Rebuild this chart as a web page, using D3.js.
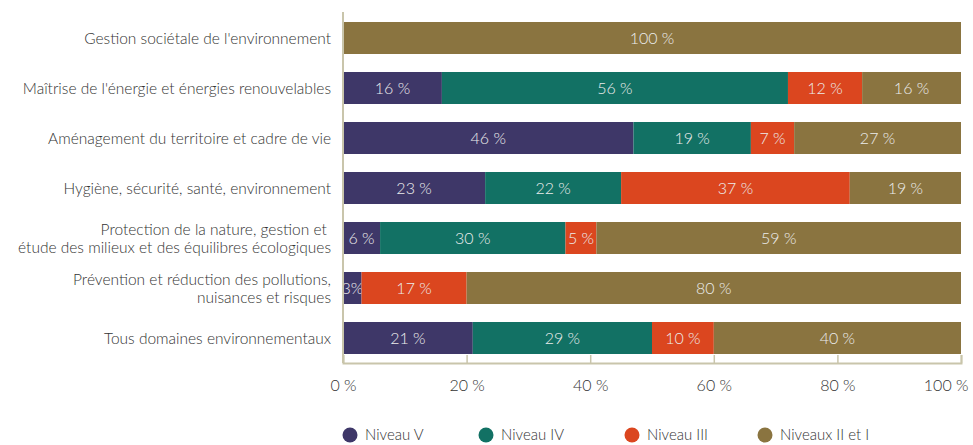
<!DOCTYPE html>
<html>
<head>
<meta charset="utf-8">
<script src="https://cdn.jsdelivr.net/npm/d3@7"></script>
<style>
  body { margin: 0; background: #fff; }
  text { font-family: Lato, "Open Sans", sans-serif; font-weight: 300; }
</style>
</head>
<body>
<div id="chart"></div>
<script>
// categories (each entry = lines of the label)
var categories = [
  ["Gestion sociétale de l'environnement"],
  ["Maîtrise de l'énergie et énergies renouvelables"],
  ["Aménagement du territoire et cadre de vie"],
  ["Hygiène, sécurité, santé, environnement"],
  ["Protection de la nature, gestion et ", "étude des milieux et des équilibres écologiques"],
  ["Prévention et réduction des pollutions,", "nuisances et risques"],
  ["Tous domaines environnementaux"]
];
var seriesNames = ["Niveau V", "Niveau IV", "Niveau III", "Niveaux II et I"];
var colors = ["#3e3768", "#127164", "#db461f", "#8a7440"];

// bar widths (%)
var niveauV   = [0, 16, 47, 23, 6, 3, 21];
var niveauIV  = [0, 56, 19, 22, 30, 0, 29];
var niveauIII = [0, 12, 7, 37, 5, 17, 10];
var niveauII  = [100, 16, 27, 18, 59, 80, 40];

// printed labels
var labelsV   = ["", "16 %", "46 %", "23 %", "6 %", "3%", "21 %"];
var labelsIV  = ["", "56 %", "19 %", "22 %", "30 %", "", "29 %"];
var labelsIII = ["", "12 %", "7 %", "37 %", "5 %", "17 %", "10 %"];
var labelsII  = ["100 %", "16 %", "27 %", "19 %", "59 %", "80 %", "40 %"];

var ticks = [0, 20, 40, 60, 80, 100];

var W = 973, H = 445;
var margin = { top: 13, left: 343, right: 12 };
var plotBottom = 363;

var svg = d3.select("#chart").append("svg")
  .attr("width", W).attr("height", H);

var x = d3.scaleLinear().domain([0, 100]).range([margin.left, W - margin.right]);
var y = d3.scaleBand().domain(d3.range(categories.length))
  .range([margin.top, plotBottom]).paddingInner(0.36).paddingOuter(0.18);

var values = [niveauV, niveauIV, niveauIII, niveauII];
var labels = [labelsV, labelsIV, labelsIII, labelsII];

var rows = categories.map(function(c, i) {
  var r = { i: i };
  seriesNames.forEach(function(s, k) { r[s] = values[k][i]; });
  return r;
});
var stack = d3.stack().keys(seriesNames)(rows);

// bars
stack.forEach(function(layer, k) {
  var g = svg.append("g");
  g.selectAll("rect").data(layer).join("rect")
    .attr("x", function(d) { return x(d[0]); })
    .attr("y", function(d, i) { return y(i); })
    .attr("width", function(d) { return x(d[1]) - x(d[0]); })
    .attr("height", y.bandwidth())
    .attr("fill", colors[k]);
  g.selectAll("text").data(layer).join("text")
    .attr("x", function(d) { return (x(d[0]) + x(d[1])) / 2; })
    .attr("y", function(d, i) { return y(i) + y.bandwidth() / 2; })
    .attr("dy", "0.36em")
    .attr("text-anchor", "middle")
    .attr("fill", "#ececec")
    .style("font-size", "16px")
    .text(function(d, i) { return labels[k][i]; });
});

// y axis line
svg.append("line")
  .attr("x1", x(0)).attr("x2", x(0))
  .attr("y1", margin.top - 1).attr("y2", plotBottom)
  .attr("stroke", "#c9c5ab").attr("stroke-width", 2);

// x axis
var axis = svg.append("g").attr("transform", "translate(0," + plotBottom + ")")
  .call(d3.axisBottom(x).tickValues(ticks).tickSize(-8).tickPadding(17)
    .tickFormat(function(d) { return d + " %"; }));
axis.select(".domain").attr("stroke", "#c9c5ab").attr("stroke-width", 2);
axis.selectAll(".tick line").attr("stroke", "#c9c5ab").attr("stroke-width", 1.5);
axis.selectAll(".tick text").attr("fill", "#333").style("font-size", "16px")
  .style("font-family", "Lato, 'Open Sans', sans-serif");
axis.selectAll(".tick text").filter(function(d) { return d === 100; })
  .attr("text-anchor", "end").attr("dx", 7);

// category labels
var cat = svg.append("g");
categories.forEach(function(lines, i) {
  var cy = y(i) + y.bandwidth() / 2;
  var t = cat.append("text")
    .attr("text-anchor", "end")
    .attr("fill", "#333")
    .style("font-size", "15.5px");
  lines.forEach(function(l, j) {
    t.append("tspan")
      .attr("x", 331)
      .attr("y", cy + (j - (lines.length - 1) / 2) * 18)
      .attr("dy", "0.36em")
      .text(l);
  });
});

// legend
var legendX = [350, 486, 632, 765];
var leg = svg.append("g").attr("transform", "translate(0,435)");
seriesNames.forEach(function(s, k) {
  leg.append("circle").attr("cx", legendX[k]).attr("cy", 0).attr("r", 7.5).attr("fill", colors[k]);
  leg.append("text").attr("x", legendX[k] + 15).attr("y", 0).attr("dy", "0.36em")
    .attr("fill", "#333").style("font-size", "15px").text(s);
});
</script>
</body>
</html>
